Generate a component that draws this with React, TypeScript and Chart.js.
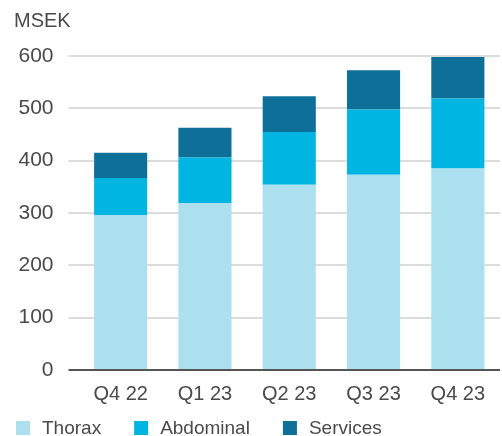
import React, { useEffect, useRef } from "react";
import { Chart, registerables } from "chart.js";

Chart.register(...registerables);

const categories = ["Q4 22", "Q1 23", "Q2 23", "Q3 23", "Q4 23"];
const thorax = [296, 319, 354, 373, 385];
const abdominal = [71, 87, 101, 125, 134];
const services = [48, 57, 68, 75, 79];
const seriesNames = ["Thorax", "Abdominal", "Services"];
const seriesColors = ["#ADE0EF", "#00B5E2", "#0E7099"];
const yTicks = [0, 100, 200, 300, 400, 500, 600];
const unitLabel = "MSEK";

const FONT = "'Liberation Sans', Arial, sans-serif";
const TEXT = "#4a4a4a";

const bottomLegend = {
  id: "bottomLegend",
  afterDraw(chart: any) {
    const ctx = chart.ctx;
    ctx.save();
    ctx.font = `19px ${FONT}`;
    ctx.textBaseline = "middle";
    ctx.textAlign = "left";
    const y = chart.height - 8;
    let x = 16;
    chart.data.datasets.forEach((ds: any) => {
      ctx.fillStyle = ds.backgroundColor;
      ctx.fillRect(x, y - 7, 14, 14);
      ctx.fillStyle = TEXT;
      ctx.fillText(ds.label, x + 26, y + 1);
      x += 26 + ctx.measureText(ds.label).width + 33;
    });
    ctx.restore();
  },
};

export default function App() {
  const ref = useRef<HTMLCanvasElement>(null);
  useEffect(() => {
    if (!ref.current) return;
    const seriesData = [thorax, abdominal, services];
    const chart = new Chart(ref.current, {
      type: "bar",
      data: {
        labels: categories,
        datasets: seriesNames.map((name, i) => ({
          label: name,
          data: seriesData[i],
          backgroundColor: seriesColors[i],
          borderWidth: 0,
          barPercentage: 0.63,
          categoryPercentage: 1,
        })),
      },
      options: {
        responsive: false,
        animation: false,
        layout: { padding: { left: 14, right: 2, top: 0, bottom: 18 } },
        plugins: {
          legend: { display: false },
          tooltip: { enabled: false },
          title: {
            display: true,
            text: unitLabel,
            align: "start",
            color: TEXT,
            font: { family: FONT, size: 20, weight: "normal" },
            padding: { top: 9, bottom: 23 },
          },
        },
        scales: {
          x: {
            stacked: true,
            grid: { display: false, drawTicks: false },
            border: { display: false },
            ticks: {
              color: TEXT,
              padding: 12,
              font: { family: FONT, size: 20 },
            },
          },
          y: {
            stacked: true,
            min: 0,
            max: 600,
            afterFit: (axis: any) => {
              axis.width = 64.5;
            },
            afterBuildTicks: (axis: any) => {
              axis.ticks = yTicks.map((v) => ({ value: v }));
            },
            border: { display: false },
            grid: {
              drawTicks: true,
              tickLength: 10,
              lineWidth: 2,
              color: (c: any) => (c.tick && c.tick.value === 0 ? "#555555" : "#dcdcdc"),
            },
            ticks: {
              color: TEXT,
              padding: 15,
              font: { family: FONT, size: 21 },
            },
          },
        },
      },
      plugins: [bottomLegend],
    });
    return () => chart.destroy();
  }, []);
  return (
    <div style={{ position: "absolute", left: 0, top: 0, width: 502, height: 436 }}>
      <canvas ref={ref} width={502} height={436} style={{ display: "block" }} />
    </div>
  );
}
